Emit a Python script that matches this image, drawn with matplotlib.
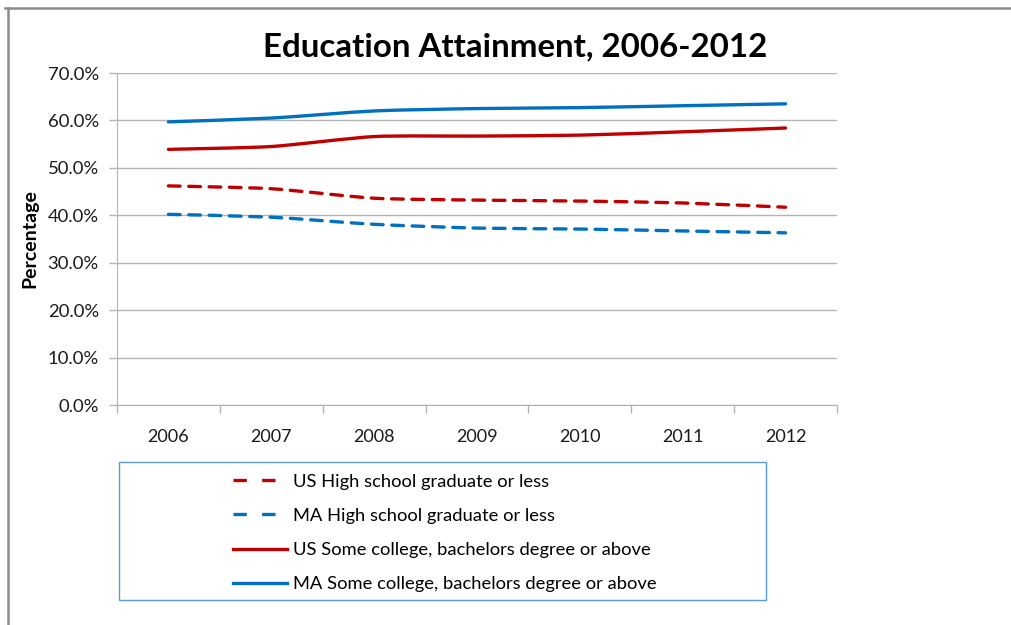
import matplotlib
matplotlib.use("Agg")
import numpy as np
import matplotlib.pyplot as plt
from matplotlib.lines import Line2D
from matplotlib.patches import Rectangle, PathPatch
from matplotlib.path import Path
from matplotlib.ticker import PercentFormatter, FixedLocator, NullFormatter

years = ["2006", "2007", "2008", "2009", "2010", "2011", "2012"]
us_hs = [46.2, 45.6, 43.6, 43.2, 43.0, 42.6, 41.7]
ma_hs = [40.2, 39.6, 38.1, 37.3, 37.1, 36.7, 36.3]
us_college = [53.9, 54.5, 56.6, 56.7, 56.9, 57.6, 58.4]
ma_college = [59.7, 60.5, 62.0, 62.5, 62.7, 63.1, 63.5]

labels = [
    "US High school graduate or less",
    "MA High school graduate or less",
    "US Some college, bachelors degree or above",
    "MA Some college, bachelors degree or above",
]

RED = "#C00000"
BLUE = "#0070C0"
GRID = "#B3B3B3"
FONT = "Lato"

W, H = 1011, 625
fig = plt.figure(figsize=(W / 100, H / 100), dpi=100)
fig.patch.set_facecolor("white")

# outer chart frame (runs off the right and bottom edges)
fig.add_artist(Line2D([5 / W, 1.0], [1 - 8 / H, 1 - 8 / H], transform=fig.transFigure,
                      color="#8C8C8C", lw=1.8))
fig.add_artist(Line2D([8 / W, 8 / W], [0, 1 - 8 / H], transform=fig.transFigure,
                      color="#8C8C8C", lw=1.8))

ax = fig.add_axes([117 / W, (H - 405) / H, 720 / W, 332 / H])
x = np.arange(len(years), dtype=float)


def smooth_path(xs, ys, tension=0.11):
    """Cubic Bezier path through every point (Catmull-Rom style smoothing)."""
    xs = np.asarray(xs, float)
    ys = np.asarray(ys, float)
    verts = [(xs[0], ys[0])]
    codes = [Path.MOVETO]
    n = len(xs)
    for i in range(n - 1):
        p0 = (xs[max(i - 1, 0)], ys[max(i - 1, 0)])
        p1 = (xs[i], ys[i])
        p2 = (xs[i + 1], ys[i + 1])
        p3 = (xs[min(i + 2, n - 1)], ys[min(i + 2, n - 1)])
        c1 = (p1[0] + (p2[0] - p0[0]) * tension, p1[1] + (p2[1] - p0[1]) * tension)
        c2 = (p2[0] - (p3[0] - p1[0]) * tension, p2[1] - (p3[1] - p1[1]) * tension)
        verts += [c1, c2, p2]
        codes += [Path.CURVE4] * 3
    return Path(verts, codes)


DASH = (0, (3.5, 2.6))
LEG_DASH = (0, (4.0, 4.6))
series = [
    (us_hs, RED, True),
    (ma_hs, BLUE, True),
    (us_college, RED, False),
    (ma_college, BLUE, False),
]
handles = []
for (vals, col, dashed), lab in zip(series, labels):
    patch = PathPatch(smooth_path(x, vals), facecolor="none", edgecolor=col, lw=2.4,
                      linestyle=DASH if dashed else "solid", capstyle="round")
    ax.add_patch(patch)
    handles.append(Line2D([], [], color=col, lw=2.4,
                          linestyle=LEG_DASH if dashed else "-", label=lab))

ax.set_xlim(-0.5, 6.5)
ax.set_ylim(0, 70)
ax.yaxis.set_major_locator(FixedLocator([0, 10, 20, 30, 40, 50, 60, 70]))
ax.yaxis.set_major_formatter(PercentFormatter(decimals=1))
ax.grid(axis="y", color=GRID, lw=1.0)
ax.set_axisbelow(True)

# category labels centred, tick marks on category boundaries
ax.set_xticks(x)
ax.set_xticklabels(years)
ax.xaxis.set_minor_locator(FixedLocator([i - 0.5 for i in range(len(years) + 1)]))
ax.xaxis.set_minor_formatter(NullFormatter())
ax.tick_params(axis="x", which="major", length=0, pad=17, labelsize=13, labelcolor="#1a1a1a")
ax.tick_params(axis="x", which="minor", length=6, color=GRID, width=1.0)
ax.tick_params(axis="y", length=6, color=GRID, width=1.0, labelsize=13.3,
               labelcolor="#1a1a1a", pad=7)
for lbl in ax.get_xticklabels() + ax.get_yticklabels():
    lbl.set_fontfamily(FONT)

for side in ["top", "right"]:
    ax.spines[side].set_visible(False)
ax.spines["left"].set_color(GRID)
ax.spines["bottom"].set_color(GRID)

ax.set_ylabel("Percentage", fontsize=14, fontweight="bold", family=FONT, labelpad=7)

fig.text(515 / W, 1 - 47 / H, "Education Attainment, 2006-2012", ha="center", va="center",
         fontsize=23.8, fontweight="bold", family=FONT)

# legend box
fig.add_artist(Rectangle((119 / W, 1 - 600 / H), (766 - 119) / W, (600 - 462) / H,
                         transform=fig.transFigure, fill=False, edgecolor="#5B9BD5", lw=1.0))
leg = fig.legend(handles=handles, loc="upper left", bbox_to_anchor=(216 / W, 1 - 457 / H),
                 frameon=False, handlelength=2.95, handletextpad=0.33,
                 labelspacing=1.0, prop={"family": FONT, "size": 13.2})

fig.savefig("out.png", dpi=100, facecolor="white")
